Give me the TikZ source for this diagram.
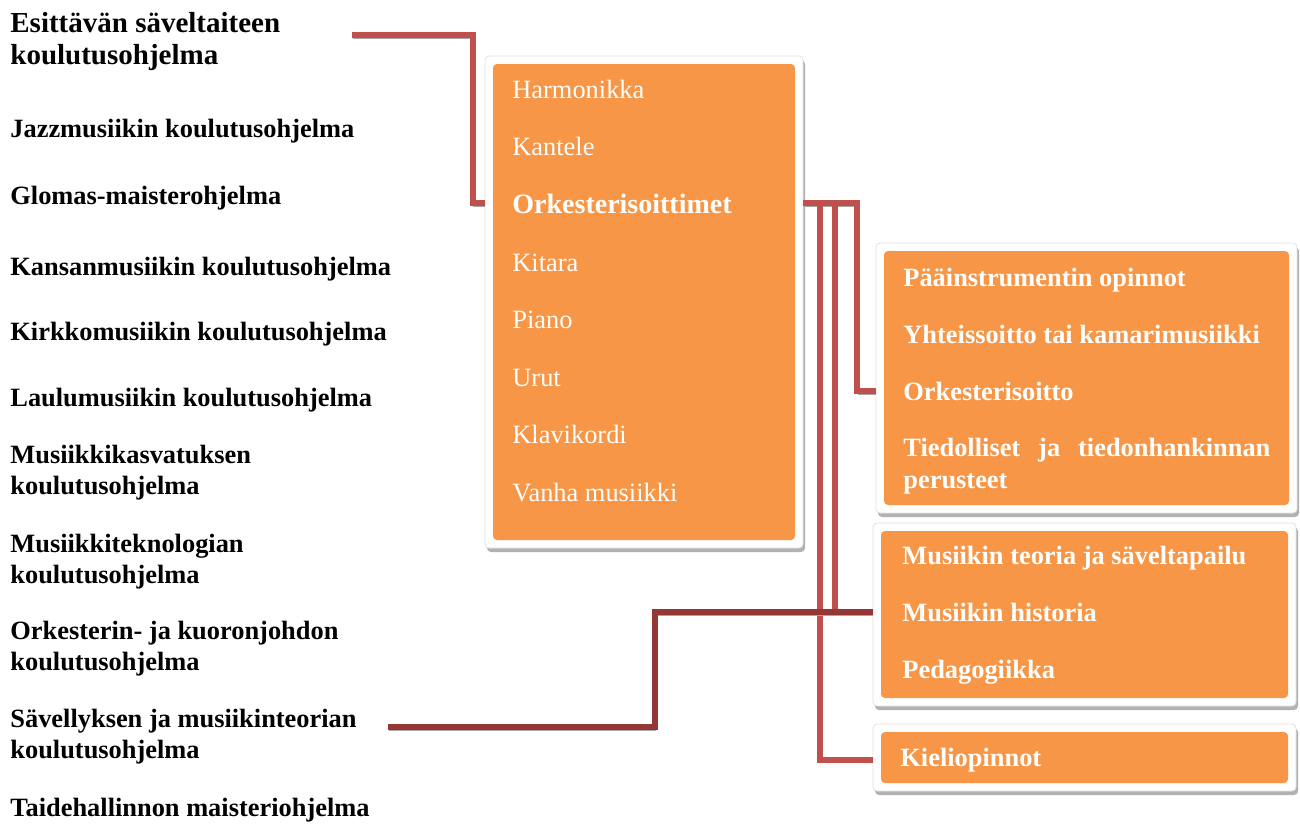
\documentclass[tikz,border=0pt]{standalone}
\usepackage{fontspec}
\setmainfont{Liberation Serif}
\usetikzlibrary{positioning, shadows, calc}
\definecolor{boxorange}{HTML}{F79646}
\definecolor{linkred}{HTML}{C0504D}
\definecolor{linkdark}{HTML}{953735}

\begin{document}
\begin{tikzpicture}[
        x=0.5pt, y=-0.5pt,
        prog/.style={anchor=base west, inner sep=0pt, align=left, font=\fontsize{13.2}{15.5}\selectfont\bfseries},
        panel/.style={rectangle, fill=white, draw=black!12, line width=0.4pt, rounded corners=2pt,
            drop shadow={shadow xshift=1pt, shadow yshift=-2pt, fill=black, opacity=0.3},
            path picture={\fill[boxorange] ([shift={(4pt,4pt)}]path picture bounding box.south west) rectangle ([shift={(-4pt,-4pt)}]path picture bounding box.north east);}},
        item/.style={inner sep=0pt, text=white, font=\fontsize{13.2}{16}\selectfont},
        bitem/.style={item, font=\fontsize{13.2}{16}\selectfont\bfseries},
        link/.style={draw=linkred, line width=3pt, preaction={draw=gray!70, transform canvas={shift={(0.4pt,-1.5pt)}}}}
    ]
    \useasboundingbox (0,0) rectangle (1300,826);

    % programmes (two-line ones sit on their last baseline)
    \node[prog, font=\fontsize{14.5}{16}\selectfont\bfseries] (esit) at (10,64) {Esittävän säveltaiteen\\koulutusohjelma};
    \node[prog] (jazz) at (10,137) {Jazzmusiikin koulutusohjelma};
    \node[prog] (glomas) at (10,204) {Glomas-maisterohjelma};
    \node[prog] (kansan) at (10,275) {Kansanmusiikin koulutusohjelma};
    \node[prog] (kirkko) at (10,340) {Kirkkomusiikin koulutusohjelma};
    \node[prog] (laulu) at (10,406) {Laulumusiikin koulutusohjelma};
    \node[prog] (musikasv) at (10,494) {Musiikkikasvatuksen\\koulutusohjelma};
    \node[prog] (mustek) at (10,583) {Musiikkiteknologian\\koulutusohjelma};
    \node[prog] (orkjoht) at (10,670) {Orkesterin- ja kuoronjohdon\\koulutusohjelma};
    \node[prog] (savel) at (10,758) {Sävellyksen ja musiikinteorian\\koulutusohjelma};
    \node[prog] (taideh) at (10,816) {Taidehallinnon maisteriohjelma};

    % boxes
    \node[panel, minimum width=159pt, minimum height=246pt] (box1) at (644,302) {};
    \node[panel, minimum width=210.5pt, minimum height=135pt] (box2) at (1086.5,378) {};
    \node[panel, minimum width=211.5pt, minimum height=91.5pt] (box3) at (1084.5,614.5) {};
    \node[panel, minimum width=211.5pt, minimum height=33.5pt] (box4) at (1084.5,757.5) {};

    % instruments
    \node[item, anchor=base west] (harm) at (512,98) {Harmonikka};
    \node[item, below=28.75pt of harm.base west, anchor=base west] (kant) {Kantele};
    \node[bitem, font=\fontsize{14}{16}\selectfont\bfseries, below=28.75pt of kant.base west, anchor=base west] (orkest) {Orkesterisoittimet};
    \node[item, below=29.25pt of orkest.base west, anchor=base west] (kitara) {Kitara};
    \node[item, below=28.5pt of kitara.base west, anchor=base west] (piano) {Piano};
    \node[item, below=28.75pt of piano.base west, anchor=base west] (urut) {Urut};
    \node[item, below=28.75pt of urut.base west, anchor=base west] (klavi) {Klavikordi};
    \node[item, below=28.75pt of klavi.base west, anchor=base west] (vanha) {Vanha musiikki};

    % studies
    \node[bitem, anchor=base west] (paainst) at (903,286) {Pääinstrumentin opinnot};
    \node[bitem, below=28.5pt of paainst.base west, anchor=base west] (yhteis) {Yhteissoitto tai kamarimusiikki};
    \node[bitem, below=28.5pt of yhteis.base west, anchor=base west] (orksoitto) {Orkesterisoitto};
    \node[bitem, text width=183.5pt, align=justify, anchor=base west] (tiedol) at (903,456) {Tiedolliset ja tiedonhankinnan perusteet};

    \node[bitem, anchor=base west] (teoria) at (902,564) {Musiikin teoria ja säveltapailu};
    \node[bitem, below=28.5pt of teoria.base west, anchor=base west] (hist) {Musiikin historia};
    \node[bitem, below=28.5pt of hist.base west, anchor=base west] (peda) {Pedagogiikka};

    \node[bitem, anchor=base west] (kieli) at (900,766) {Kieliopinnot};

    % connectors
    \coordinate (esitend) at (352,35);
    \coordinate (savend) at (388,727);
    \coordinate[left=6pt of box1.west] (bendA);
    \coordinate (bendB) at (655,727);
    \coordinate[right=27pt of box1.east] (bend1);
    \coordinate[right=16pt of box1.east] (bend2);
    \coordinate[right=8.5pt of box1.east] (bend3);

    \draw[link] (esitend) -| (bendA |- orkest) -- (box1.west |- orkest);
    \draw[link] (box1.east |- orkest) -| (bend1 |- orksoitto) -- (box2.west |- orksoitto);
    \draw[link] (box1.east |- orkest) -| (bend2 |- hist) -- (box3.west |- hist);
    \draw[link] (box1.east |- orkest) -| (bend3 |- kieli) -- (box4.west |- kieli);
    \draw[link, draw=linkdark] (savend) -| (bendB |- hist) -- (box3.west |- hist);

\end{tikzpicture}
\end{document}
